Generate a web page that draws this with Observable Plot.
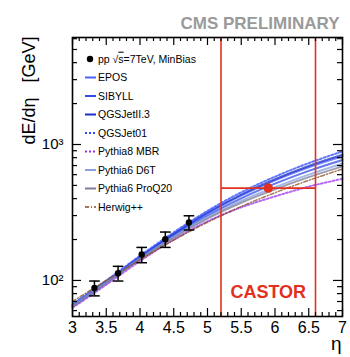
<!DOCTYPE html>
<html><head><meta charset="utf-8">
<script src="https://cdn.jsdelivr.net/npm/d3@7"></script>
<script src="https://cdn.jsdelivr.net/npm/@observablehq/plot@0.6"></script>
<style>
body{margin:0;background:#fff}
#wrap{position:relative;width:350px;height:357px}
#legend{position:absolute;left:0;top:0;pointer-events:none}
</style>
</head><body><div id="wrap"></div>
<script>
// ---- data ----
const dataEta = [3.325, 3.675, 4.025, 4.375, 4.725];
const dataVal = [88, 113, 155, 201, 267];
const dataErr = [11, 14, 20, 26, 32];
const castorEta = [5.9];
const castorVal = [478];
const castorErr = [15];
const castorRange = [5.2, 6.6];

const mcEta = [3, 3.5, 4, 4.5, 5, 5.5, 6, 6.5, 7];
const epos      = [65, 97, 147, 218, 310, 420, 545, 680, 820];
const sibyll    = [64, 96, 145, 213, 300, 402, 515, 640, 770];
const qgsjet2   = [66, 98, 149, 220, 315, 428, 555, 695, 840];
const qgsjet01  = [67, 100, 152, 226, 325, 445, 580, 730, 890];
const py8mbr    = [63, 93, 139, 200, 272, 345, 415, 490, 560];
const py6d6t    = [65, 97, 145, 210, 292, 385, 485, 600, 725];
const py6proq20 = [64, 96, 143, 206, 285, 373, 468, 575, 690];
const herwig    = [70, 100, 142, 198, 268, 350, 442, 545, 660];
const modelNames = ["EPOS", "SIBYLL", "QGSJetII.3", "QGSJet01", "Pythia8 MBR", "Pythia6 D6T", "Pythia6 ProQ20", "Herwig++"];
const modelSeries = [epos, sibyll, qgsjet2, qgsjet01, py8mbr, py6d6t, py6proq20, herwig];

const xMajorTicks = [3, 3.5, 4, 4.5, 5, 5.5, 6, 6.5, 7];
const yMajorTicks = [100, 1000];
const yTickLabels = ["10²", "10³"];
const yMinorTicks = [60, 70, 80, 90, 200, 300, 400, 500, 600, 700, 800, 900, 2000, 3000, 4000, 5000, 6000];

// ---- styles ----
const modelStyles = [
  {color: "#4a63ff", width: 2, dash: null},
  {color: "#2f48e8", width: 2, dash: null},
  {color: "#1d2fc8", width: 2, dash: null},
  {color: "#2a48ff", width: 2, dash: "2,2"},
  {color: "#9b35f0", width: 2, dash: "2,2"},
  {color: "#86a3dd", width: 2, dash: null},
  {color: "#7c7c98", width: 2, dash: null},
  {color: "#8a4a20", width: 1.5, dash: "4,2,1,2"}
];
const red = "#e2301e";

const W = 350, H = 357, mL = 72, mR = 8, mT = 37, mB = 41;
const FW = W - mL - mR, FH = H - mT - mB;

const xMinorTicks = d3.range(30, 71).map(d => d / 10).filter(d => !xMajorTicks.includes(d));
const pts = dataEta.map((e, i) => ({eta: e, v: dataVal[i], lo: dataVal[i] - dataErr[i], hi: dataVal[i] + dataErr[i]}));
const cas = castorEta.map((e, i) => ({eta: e, v: castorVal[i], lo: castorVal[i] - castorErr[i], hi: castorVal[i] + castorErr[i]}));
const capSymbol = {draw(ctx, size) { const w = Math.sqrt(size); ctx.moveTo(-w, 0); ctx.lineTo(w, 0); }};

const marks = [];
modelSeries.forEach((s, k) => {
  const st = modelStyles[k];
  marks.push(Plot.line(mcEta.map((e, i) => ({eta: e, v: s[i]})), {
    x: "eta", y: "v", curve: "catmull-rom",
    stroke: st.color, strokeWidth: st.width, strokeDasharray: st.dash, strokeOpacity: 0.75
  }));
});
marks.push(Plot.ruleX(castorRange, {x: d => d, stroke: red, strokeWidth: 1.6}));
marks.push(Plot.link(cas, {x1: () => castorRange[0], x2: () => castorRange[1], y1: "v", y2: "v", stroke: red, strokeWidth: 1.6}));
marks.push(Plot.ruleX(cas, {x: "eta", y1: "lo", y2: "hi", stroke: red, strokeWidth: 2}));
marks.push(Plot.dot(cas, {x: "eta", y: "v", r: 4, fill: red, stroke: red}));
marks.push(Plot.ruleX(pts, {x: "eta", y1: "lo", y2: "hi", stroke: "black", strokeWidth: 1.5}));
marks.push(Plot.dot(pts, {x: "eta", y: "lo", symbol: capSymbol, r: 3, stroke: "black", strokeWidth: 1.5, fill: "none"}));
marks.push(Plot.dot(pts, {x: "eta", y: "hi", symbol: capSymbol, r: 3, stroke: "black", strokeWidth: 1.5, fill: "none"}));
marks.push(Plot.dot(pts, {x: "eta", y: "v", r: 3.2, fill: "black"}));
marks.push(Plot.ruleX(xMajorTicks, {x: d => d, insetTop: FH - 8, stroke: "black", strokeWidth: 1.2}));
marks.push(Plot.ruleX(xMinorTicks, {x: d => d, insetTop: FH - 4, stroke: "black", strokeWidth: 1.2}));
marks.push(Plot.ruleX(xMajorTicks, {x: d => d, insetBottom: FH - 8, stroke: "black", strokeWidth: 1.2}));
marks.push(Plot.ruleX(xMinorTicks, {x: d => d, insetBottom: FH - 4, stroke: "black", strokeWidth: 1.2}));
marks.push(Plot.ruleY(yMajorTicks, {y: d => d, insetRight: FW - 9, stroke: "black", strokeWidth: 1.2}));
marks.push(Plot.ruleY(yMinorTicks, {y: d => d, insetRight: FW - 5, stroke: "black", strokeWidth: 1.2}));
marks.push(Plot.ruleY(yMajorTicks, {y: d => d, insetLeft: FW - 9, stroke: "black", strokeWidth: 1.2}));
marks.push(Plot.ruleY(yMinorTicks, {y: d => d, insetLeft: FW - 5, stroke: "black", strokeWidth: 1.2}));
marks.push(Plot.frame({stroke: "black", strokeWidth: 1.6}));
marks.push(Plot.axisX({ticks: xMajorTicks, tickSize: 0, tickPadding: 5, tickFormat: d => String(+d.toFixed(1)), label: null, fontSize: 16}));
marks.push(Plot.axisY({ticks: yMajorTicks, tickSize: 0, tickPadding: 9, tickFormat: d => yTickLabels[yMajorTicks.indexOf(d)], label: null, fontSize: 15}));
marks.push(Plot.text(["dE/dη   [GeV]"], {text: d => d, frameAnchor: "top-left", dx: -50, dy: -1, rotate: -90, textAnchor: "end", fontSize: 18}));
marks.push(Plot.text(["η"], {text: d => d, frameAnchor: "bottom-right", dx: -1, dy: 33, textAnchor: "end", fontSize: 19}));
marks.push(Plot.text(["CMS PRELIMINARY"], {text: d => d, frameAnchor: "top-right", dx: -3, dy: -21, textAnchor: "end", fontSize: 17, fontWeight: "bold", fill: "#9a9a9a"}));
marks.push(Plot.text(["CASTOR"], {text: d => d, x: () => (castorRange[0] + castorRange[1]) / 2, frameAnchor: "bottom", dy: -19, fontSize: 18, fontWeight: "bold", fill: red}));

const chart = Plot.plot({
  width: W, height: H,
  marginLeft: mL, marginRight: mR, marginTop: mT, marginBottom: mB,
  style: {fontFamily: "'Liberation Sans', Arial, sans-serif", fontSize: "16px", color: "black", background: "white"},
  x: {domain: [3, 7], axis: null},
  y: {type: "log", domain: [54.3, 6125], axis: null},
  marks
});
const wrap = document.getElementById("wrap");
wrap.appendChild(chart);

// ---- legend overlay ----
const leg = d3.select(wrap).append("svg").attr("id", "legend").attr("width", W).attr("height", H)
  .style("font-family", "'Liberation Sans', Arial, sans-serif").style("font-size", "10.5px");
const ly0 = 59, lstep = 18.5, lx0 = 85, lx1 = 96, ltx = 98;
const g0 = leg.append("g");
g0.append("circle").attr("cx", 90).attr("cy", ly0).attr("r", 3.2).attr("fill", "black");
const t0 = g0.append("text").attr("x", ltx).attr("y", ly0).attr("dy", "0.35em");
t0.append("tspan").text("pp √");
t0.append("tspan").attr("text-decoration", "overline").text("s");
t0.append("tspan").text("=7TeV, MinBias");
modelNames.forEach((n, k) => {
  const st = modelStyles[k];
  const y = ly0 + lstep * (k + 1);
  leg.append("line").attr("x1", lx0).attr("x2", lx1).attr("y1", y).attr("y2", y)
    .attr("stroke", st.color).attr("stroke-width", st.width).attr("stroke-dasharray", st.dash);
  leg.append("text").attr("x", ltx).attr("y", y).attr("dy", "0.35em").text(n);
});
</script>
</body></html>
